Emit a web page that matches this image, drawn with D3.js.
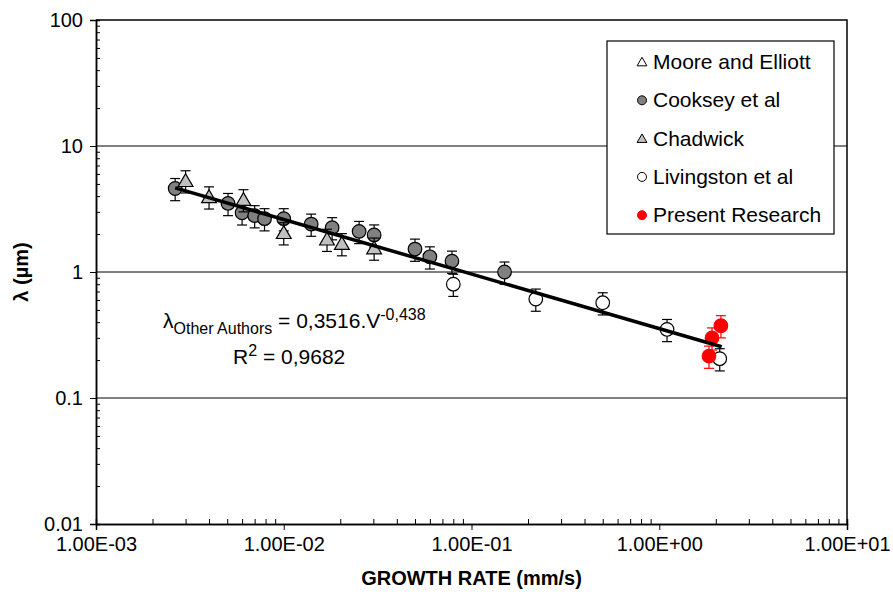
<!DOCTYPE html>
<html>
<head>
<meta charset="utf-8">
<script src="https://cdn.jsdelivr.net/npm/d3@7"></script>
<style>
  body { margin: 0; background: #fff; }
  text { font-family: "Liberation Sans", Arial, sans-serif; fill: #000; }
</style>
</head>
<body>
<svg id="chart" width="893" height="592"></svg>
<script>
// axis ticks
const xTicks = [1e-3, 1e-2, 1e-1, 1, 10];
const xTickLabels = ["1.00E-03", "1.00E-02", "1.00E-01", "1.00E+00", "1.00E+01"];
const yTicks = [0.01, 0.1, 1, 10, 100];
const yTickLabels = ["0.01", "0.1", "1", "10", "100"];

// [growth rate mm/s, lambda um]
const mooreElliott = [];
const cooksey = [
  [0.00264, 4.6], [0.00505, 3.5], [0.0060, 2.95], [0.0070, 2.8], [0.0079, 2.65],
  [0.0100, 2.65], [0.0140, 2.4], [0.0181, 2.25], [0.0252, 2.1], [0.0303, 1.97],
  [0.0500, 1.52], [0.0600, 1.32], [0.0787, 1.22], [0.150, 1.0]
];
const chadwick = [
  [0.0030, 5.3], [0.0040, 3.95], [0.0061, 3.75], [0.0100, 2.05],
  [0.0170, 1.82], [0.0204, 1.68], [0.0303, 1.55]
];
const livingston = [
  [0.080, 0.80], [0.220, 0.61], [0.50, 0.57], [1.10, 0.35], [2.10, 0.205]
];
const presentResearch = [
  [2.13, 0.375], [1.91, 0.30], [1.84, 0.215]
];
// power trendline ends
const trendLine = [[0.00264, 4.65], [2.15, 0.255]];
const errorFraction = 0.2;

const legendNames = ["Moore and Elliott", "Cooksey et al", "Chadwick", "Livingston et al", "Present Research"];

const svg = d3.select("#chart");
const plotLeft = 96, plotRight = 847, plotTop = 20, plotBottom = 524;

const x = d3.scaleLog().domain([1e-3, 10]).range([plotLeft, plotRight]);
const y = d3.scaleLog().domain([0.01, 100]).range([plotBottom, plotTop]);

// gridlines
svg.append("g")
  .selectAll("line")
  .data(yTicks.slice(1, -1))
  .enter().append("line")
  .attr("x1", plotLeft).attr("x2", plotRight)
  .attr("y1", d => y(d)).attr("y2", d => y(d))
  .attr("stroke", "#000").attr("stroke-width", 1);

// plot border (top, right)
svg.append("path")
  .attr("d", `M${plotLeft},${plotTop}H${plotRight}V${plotBottom}`)
  .attr("fill", "none").attr("stroke", "#000").attr("stroke-width", 1.5);

// minor tick values
const minorX = [], minorY = [];
for (let e = -3; e < 1; e++) for (let k = 2; k < 10; k++) minorX.push(k * Math.pow(10, e));
for (let e = -2; e < 2; e++) for (let k = 2; k < 10; k++) minorY.push(k * Math.pow(10, e));

// x axis
const xAxis = svg.append("g").attr("transform", `translate(0,${plotBottom})`);
xAxis.call(d3.axisBottom(x).tickValues(xTicks).tickSize(6).tickPadding(7)
  .tickFormat((d, i) => xTickLabels[i]));
xAxis.append("g").call(d3.axisTop(x).tickValues(minorX).tickSize(5).tickFormat(""));
xAxis.selectAll("path.domain").attr("stroke", "#000").attr("stroke-width", 1.5);
xAxis.selectAll("text").style("font-size", "20px").attr("fill", "#000");
xAxis.selectAll("line").attr("stroke", "#000");

// y axis
const yAxis = svg.append("g").attr("transform", `translate(${plotLeft},0)`);
yAxis.call(d3.axisLeft(y).tickValues(yTicks).tickSize(6).tickPadding(7)
  .tickFormat((d, i) => yTickLabels[i]));
yAxis.append("g").call(d3.axisRight(y).tickValues(minorY).tickSize(4).tickFormat(""));
yAxis.selectAll("path.domain").attr("stroke", "#000").attr("stroke-width", 1.5);
yAxis.selectAll("text").style("font-size", "20px").attr("fill", "#000");
yAxis.selectAll("line").attr("stroke", "#000");

// axis titles
svg.append("text")
  .attr("x", (plotLeft + plotRight) / 2).attr("y", 585)
  .attr("text-anchor", "middle")
  .style("font-size", "20px").style("font-weight", "bold")
  .text("GROWTH RATE (mm/s)");
svg.append("text")
  .attr("transform", `translate(28,${(plotTop + plotBottom) / 2}) rotate(-90)`)
  .attr("text-anchor", "middle")
  .style("font-size", "20px").style("font-weight", "bold")
  .text("λ (µm)");

// error bars
function errorBars(data, color) {
  const g = svg.append("g").attr("stroke", color).attr("stroke-width", 1.2);
  data.forEach(d => {
    const hi = d[1] * (1 + errorFraction), lo = d[1] * (1 - errorFraction);
    const cx = x(d[0]);
    g.append("line").attr("x1", cx).attr("x2", cx).attr("y1", y(hi)).attr("y2", y(lo));
    g.append("line").attr("x1", cx - 5).attr("x2", cx + 5).attr("y1", y(hi)).attr("y2", y(hi));
    g.append("line").attr("x1", cx - 5).attr("x2", cx + 5).attr("y1", y(lo)).attr("y2", y(lo));
  });
}

const triangle = d3.symbol().type(d3.symbolTriangle).size(95);
const series = [
  { data: mooreElliott, shape: "tri", fill: "#fff", stroke: "#000", err: "#000" },
  { data: cooksey, shape: "circ", fill: "#808080", stroke: "#000", err: "#000" },
  { data: chadwick, shape: "tri", fill: "#c0c0c0", stroke: "#000", err: "#000" },
  { data: livingston, shape: "circ", fill: "#fff", stroke: "#000", err: "#000" },
  { data: presentResearch, shape: "circ", fill: "#ff0000", stroke: "#ff0000", err: "#ff0000" }
];

series.forEach(s => {
  errorBars(s.data, s.err);
  const g = svg.append("g");
  if (s.shape === "tri") {
    g.selectAll("path").data(s.data).enter().append("path")
      .attr("d", triangle)
      .attr("transform", d => `translate(${x(d[0])},${y(d[1]) + 1.5})`)
      .attr("fill", s.fill).attr("stroke", s.stroke).attr("stroke-width", 1.2);
  } else {
    g.selectAll("circle").data(s.data).enter().append("circle")
      .attr("cx", d => x(d[0])).attr("cy", d => y(d[1])).attr("r", 6.8)
      .attr("fill", s.fill).attr("stroke", s.stroke).attr("stroke-width", 1.2);
  }
});

// trendline
svg.append("path")
  .datum(trendLine)
  .attr("d", d3.line().x(d => x(d[0])).y(d => y(d[1])))
  .attr("fill", "none").attr("stroke", "#000").attr("stroke-width", 3.5);

// equation
const eq = svg.append("text").attr("x", 163).attr("y", 328).style("font-size", "21px");
eq.append("tspan").text("λ");
eq.append("tspan").attr("dy", 6).style("font-size", "16px").text("Other Authors");
eq.append("tspan").attr("dy", -6).text(" = 0,3516.V");
eq.append("tspan").attr("dy", -8).style("font-size", "16px").text("-0,438");
const r2 = svg.append("text").attr("x", 233).attr("y", 364).style("font-size", "21px");
r2.append("tspan").text("R");
r2.append("tspan").attr("dy", -8).style("font-size", "16px").text("2");
r2.append("tspan").attr("dy", 8).text(" = 0,9682");

// legend
const legend = svg.append("g");
legend.append("rect")
  .attr("x", 607).attr("y", 41).attr("width", 227).attr("height", 193)
  .attr("fill", "#fff").attr("stroke", "#000").attr("stroke-width", 1.2);
const legendTri = d3.symbol().type(d3.symbolTriangle).size(42);
series.forEach((s, i) => {
  const cy = 62 + i * 38.3;
  if (s.shape === "tri") {
    legend.append("path").attr("d", legendTri)
      .attr("transform", `translate(642,${cy + 1})`)
      .attr("fill", s.fill).attr("stroke", s.stroke).attr("stroke-width", 1);
  } else {
    legend.append("circle").attr("cx", 642).attr("cy", cy).attr("r", 4.5)
      .attr("fill", s.fill).attr("stroke", s.stroke).attr("stroke-width", 1);
  }
  legend.append("text").attr("x", 653).attr("y", cy + 7)
    .style("font-size", "21px").text(legendNames[i]);
});
</script>
</body>
</html>
